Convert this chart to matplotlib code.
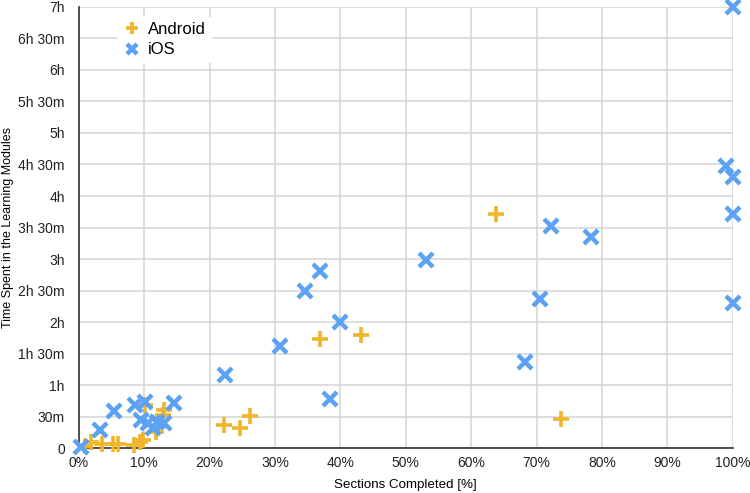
import matplotlib.pyplot as plt

plt.rcParams['font.family'] = ['Liberation Sans', 'DejaVu Sans']

# sections completed [%], minutes spent
android_pct = [1.0, 1.8, 3.5, 5.3, 6.0, 8.5, 9.3, 9.9, 10.1, 11.8, 12.9, 13.0,
               22.2, 24.6, 26.2, 36.9, 43.1, 63.8, 73.7]
android_min = [2, 6, 4, 4, 4, 3, 6, 8, 41, 15, 32, 36,
               22, 19, 31, 104, 108, 223, 28]

ios_pct = [0.4, 3.2, 5.4, 8.6, 10.2, 9.5, 10.6, 11.9, 11.4, 13.1, 14.6,
           22.3, 30.7, 34.6, 36.9, 38.4, 40.0, 53.1, 68.3, 70.6, 72.2, 78.4,
           99.0, 100, 100, 100, 100]
ios_min = [1, 17, 35, 41, 44, 27, 24, 25, 19, 24, 43,
           70, 97, 150, 169, 47, 120, 179, 82, 142, 211, 201,
           269, 258, 223, 138, 420]

y_ticks = list(range(0, 421, 30))
y_labels = ["0", "30m", "1h", "1h 30m", "2h", "2h 30m", "3h", "3h 30m", "4h",
            "4h 30m", "5h", "5h 30m", "6h", "6h 30m", "7h"]
x_ticks = list(range(0, 101, 10))
x_labels = [f"{t}%" for t in x_ticks]

fig = plt.figure(figsize=(7.5, 4.93), dpi=100)
ax = fig.add_axes([0.105, 0.091, 0.872, 0.895])

ax.plot(android_pct, android_min, linestyle='none', marker='+', markersize=12,
        markeredgewidth=2.6, color='#F0B52A', label='Android', clip_on=False, zorder=3)
ax.plot(ios_pct, ios_min, linestyle='none', marker='x', markersize=10,
        markeredgewidth=3.2, color='#5BA2F5', label='iOS', clip_on=False, zorder=3)

ax.set_xlim(0, 100)
ax.set_ylim(0, 420)
ax.set_xticks(x_ticks, labels=x_labels)
ax.set_yticks(y_ticks, labels=y_labels)
ax.tick_params(axis='x', length=0, labelsize=10, colors='#222222', pad=6)
ax.tick_params(axis='y', length=0, labelsize=10, colors='#222222', pad=10)
ax.grid(True, color='#d4d4d4', linewidth=1.1)
ax.set_axisbelow(True)
for s in ['top', 'right']:
    ax.spines[s].set_visible(False)
for s in ['left', 'bottom']:
    ax.spines[s].set_color('#333333')
    ax.spines[s].set_linewidth(1.2)

ax.set_xlabel('Sections Completed [%]', fontsize=9.6, labelpad=6)
ax.set_ylabel('Time Spent in the Learning Modules', fontsize=9, labelpad=3)

ax.legend(loc='upper left', bbox_to_anchor=(0.045, 0.997), frameon=True, framealpha=1,
          edgecolor='white', fontsize=12, handletextpad=0.4, borderpad=0.3,
          labelspacing=0.35, handlelength=1.2, markerscale=0.7)

plt.savefig('out.png', dpi=100)
